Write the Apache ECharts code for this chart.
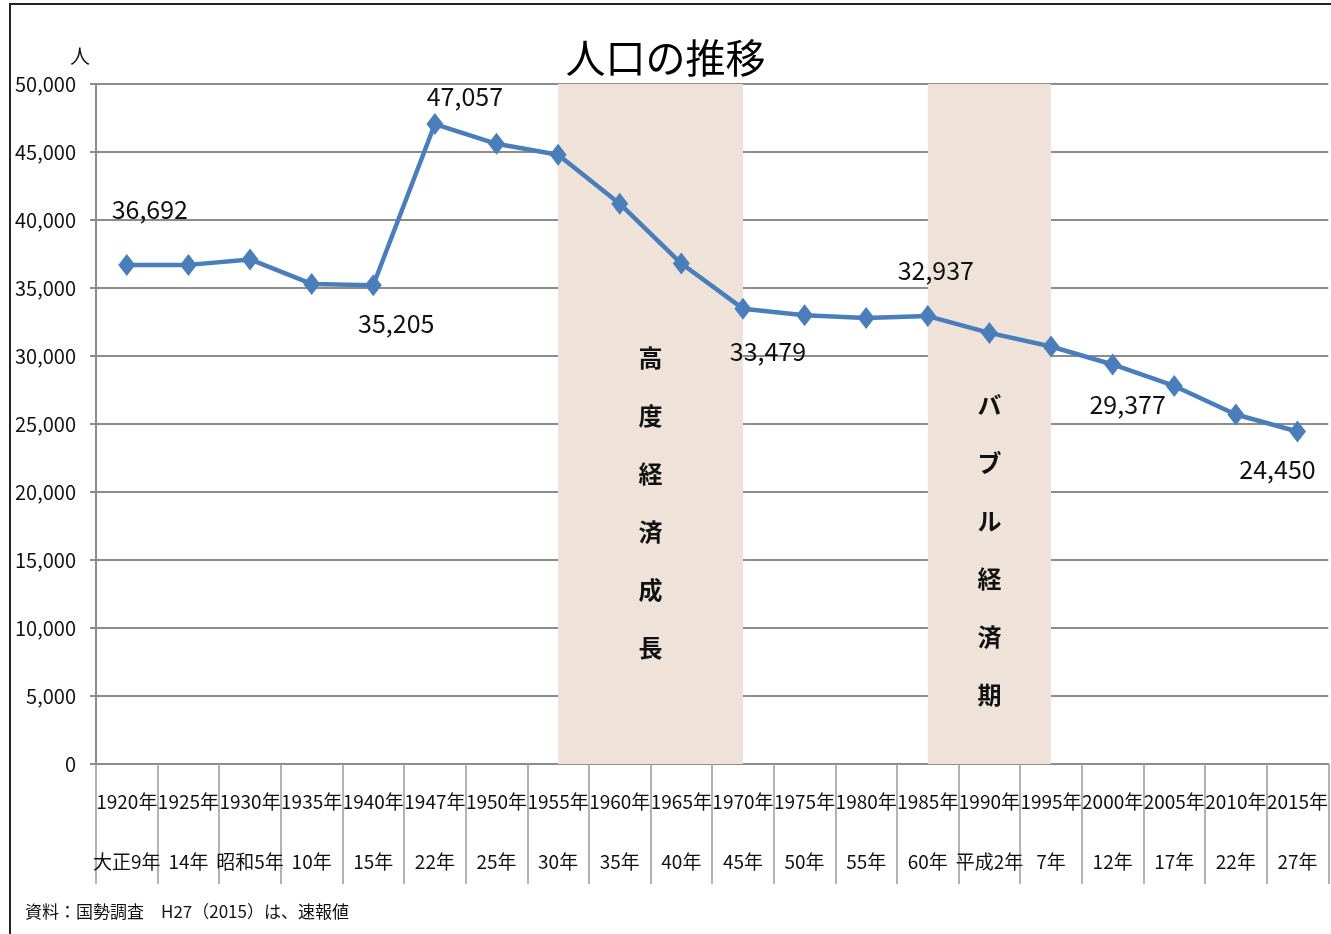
<!DOCTYPE html>
<html>
<head>
<meta charset="utf-8">
<script src="https://cdn.jsdelivr.net/npm/echarts@6/dist/echarts.min.js"></script>
<style>
  html, body { margin: 0; padding: 0; background: #fff; }
  #frame { position: absolute; left: 9px; top: 3px; width: 1400px; height: 1000px; border: 2px solid #222; }
  #chart { position: absolute; left: 0; top: 0; width: 1331px; height: 934px; }
</style>
</head>
<body>
<div id="frame"></div>
<div id="chart"></div>
<script>
const years = ['1920年', '1925年', '1930年', '1935年', '1940年', '1947年', '1950年', '1955年', '1960年', '1965年',
  '1970年', '1975年', '1980年', '1985年', '1990年', '1995年', '2000年', '2005年', '2010年', '2015年']
const eras = ['大正9年', '14年', '昭和5年', '10年', '15年', '22年', '25年', '30年', '35年', '40年',
  '45年', '50年', '55年', '60年', '平成2年', '7年', '12年', '17年', '22年', '27年']
const population = [36692, 36700, 37100, 35300, 35205, 47057, 45600, 44800, 41200, 36800,
  33479, 33000, 32800, 32937, 31700, 30700, 29377, 27800, 25700, 24450]
// indexes that get a value label, and where it sits
const labelled = {
  0: { position: 'top', offset: [23, -27] },
  4: { position: 'bottom', offset: [23, 10] },
  5: { position: 'top', offset: [30, 1] },
  10: { position: 'bottom', offset: [25, 14] },
  13: { position: 'top', offset: [8, -17] },
  16: { position: 'bottom', offset: [15, 12] },
  19: { position: 'bottom', offset: [-20, 10] },
}
const periods = [
  { name: '高\n度\n経\n済\n成\n長', from: 7, to: 10, offsetY: 240 },
  { name: 'バ\nブ\nル\n経\n済\n期', from: 13, to: 15, offsetY: 287 },
]

const FONT = '"Noto Sans CJK JP", "Noto Sans", sans-serif'
const categories = years.map((y, i) => y + '\n' + eras[i])

const seriesData = population.map((v, i) => {
  const lab = labelled[i]
  if (!lab) return v
  return {
    value: v,
    label: {
      show: true,
      position: lab.position,
      offset: lab.offset,
      fontSize: 25,
      color: '#111',
      fontFamily: FONT,
      formatter: (p) => p.value.toLocaleString('en-US'),
    },
  }
})

const chart = echarts.init(document.getElementById('chart'), null, { renderer: 'canvas' })
chart.setOption({
  animation: false,
  textStyle: { fontFamily: FONT },
  title: [
    {
      text: '人口の推移',
      left: 'center',
      top: 33,
      textStyle: { fontSize: 40, fontWeight: 'normal', color: '#000', fontFamily: FONT },
    },
    {
      text: '資料：国勢調査　H27（2015）は、速報値',
      left: 20,
      top: 898,
      textStyle: { fontSize: 17, fontWeight: 'normal', color: '#111', fontFamily: FONT },
    },
  ],
  grid: { left: 96, right: 0, top: 84, bottom: 170, containLabel: false },
  xAxis: {
    type: 'category',
    data: categories,
    boundaryGap: true,
    axisLine: { lineStyle: { color: '#8c8c8c', width: 2 } },
    axisTick: { show: true, length: 120, interval: 0, lineStyle: { color: '#9a9a9a', width: 1.5 } },
    axisLabel: { interval: 0, margin: 8, fontSize: 19, lineHeight: 60, color: '#111', fontFamily: FONT },
  },
  yAxis: {
    type: 'value',
    min: 0,
    max: 50000,
    interval: 5000,
    name: '人',
    nameLocation: 'end',
    nameGap: 18,
    nameTextStyle: { fontSize: 20, color: '#111', align: 'right', padding: [0, 6, 0, 0] },
    axisLine: { show: true, lineStyle: { color: '#8c8c8c', width: 2 } },
    axisTick: { show: true, length: 6, lineStyle: { color: '#8c8c8c', width: 2 } },
    axisLabel: {
      fontSize: 20,
      margin: 20,
      color: '#111',
      fontFamily: FONT,
      formatter: (v) => v.toLocaleString('en-US'),
    },
    splitLine: { lineStyle: { color: '#8c8c8c', width: 2 } },
  },
  series: [
    {
      type: 'line',
      data: seriesData,
      symbol: 'diamond',
      symbolSize: [17, 22],
      lineStyle: { color: '#4a7ebb', width: 4.5 },
      itemStyle: { color: '#4a7ebb' },
      z: 5,
      markArea: {
        silent: true,
        itemStyle: { color: '#efe2d9' },
        data: periods.map((p) => [
          {
            xAxis: p.from,
            name: p.name,
            label: {
              show: true,
              position: 'insideTop',
              offset: [0, p.offsetY],
              fontSize: 24,
              fontWeight: 'bold',
              lineHeight: 58,
              color: '#111',
              fontFamily: FONT,
            },
          },
          { xAxis: p.to },
        ]),
      },
    },
  ],
})
</script>
</body>
</html>
